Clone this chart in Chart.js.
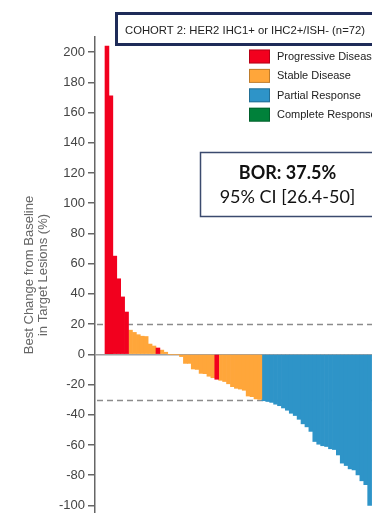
<!DOCTYPE html>
<html>
<head>
<meta charset="utf-8">
<script src="https://cdn.jsdelivr.net/npm/chart.js@4"></script>
<style>
  html, body { margin: 0; padding: 0; background: #fff; overflow: hidden; }
  #wrap { width: 372px; height: 513px; }
</style>
</head>
<body>
<div id="wrap"><canvas id="waterfall" width="372" height="513"></canvas></div>
<script>
// best % change per patient, sorted
var pctChange = [204, 171, 65, 50, 38, 28,
  16, 14.5, 13, 12, 11.8, 6.8, 5.5, 4.2, 2.8, 1.4,
  0, 0, 0,
  -1.5, -6, -6, -9.7, -10, -12.6, -12.8, -14.5, -15.5, -16.5, -17.2, -18, -19.5, -21.4, -22.5, -23, -23.8, -27.6, -28, -29.5, -29.8,
  -30.7, -31.2, -31.8, -33, -34, -35.5, -37, -39, -40.5, -43, -46, -48, -51, -57.7, -59.5, -60.5, -61, -62.5, -63, -66.6,
  -72, -73.6, -75.8, -76.5, -79.8, -83.7, -86.3, -100];

var response = ['PD','PD','PD','PD','PD','PD',
  'SD','SD','SD','SD','SD','SD','SD','PD','SD','SD',
  'SD','SD','SD',
  'SD','SD','SD','SD','SD','SD','SD','SD','SD','PD','SD','SD','SD','SD','SD','SD','SD','SD','SD','SD','SD',
  'PR','PR','PR','PR','PR','PR','PR','PR','PR','PR','PR','PR','PR','PR','PR','PR','PR','PR','PR','PR',
  'PR','PR','PR','PR','PR','PR','PR','PR'];

var respCodes = ['PD', 'SD', 'PR', 'CR'];
var respNames = ['Progressive Disease', 'Stable Disease', 'Partial Response', 'Complete Response'];
var respColors = ['#F2001E', '#FFA63A', '#2E94C8', '#00813A'];

var yTicks = [-100, -80, -60, -40, -20, 0, 20, 40, 60, 80, 100, 120, 140, 160, 180, 200];
var refLines = [20, -30];

var cohortTitle = 'COHORT 2: HER2 IHC1+ or IHC2+/ISH- (n=72)';
var borText = 'BOR: 37.5%';
var ciText = '95% CI [26.4-50]';

var datasets = [];
for (var k = 0; k < respCodes.length; k++) {
  var pts = [];
  for (var i = 0; i < pctChange.length; i++) {
    if (response[i] == respCodes[k]) pts.push({ x: i, y: pctChange[i] });
  }
  datasets.push({
    label: respNames[k],
    data: pts,
    backgroundColor: respColors[k],
    borderWidth: 0,
    grouped: false,
    barPercentage: 1,
    categoryPercentage: 1
  });
}

var overlay = {
  id: 'overlay',
  beforeDatasetsDraw: function(chart) {
    var ctx = chart.ctx, area = chart.chartArea, y = chart.scales.y;
    ctx.save();
    ctx.setLineDash([6, 4]);
    ctx.strokeStyle = '#8c8c8c';
    ctx.lineWidth = 1.5;
    refLines.forEach(function(v) {
      var py = Math.round(y.getPixelForValue(v)) + 0.5;
      ctx.beginPath();
      ctx.moveTo(area.left + 2, py);
      ctx.lineTo(area.right, py);
      ctx.stroke();
    });
    ctx.restore();
  },
  afterDraw: function(chart) {
    var ctx = chart.ctx;
    ctx.save();
    // cohort title box
    ctx.fillStyle = '#fff';
    ctx.fillRect(115, 12, 270, 34);
    ctx.strokeStyle = '#1E2B58';
    ctx.lineWidth = 3;
    ctx.strokeRect(116.5, 13.5, 270, 31);
    ctx.fillStyle = '#222';
    ctx.font = '11.5px "Liberation Sans", Arial, sans-serif';
    ctx.textBaseline = 'middle';
    ctx.textAlign = 'left';
    ctx.fillText(cohortTitle, 125, 30.5, 240);

    // legend
    ctx.font = '11px "Liberation Sans", Arial, sans-serif';
    chart.data.datasets.forEach(function(ds, k) {
      var top = 49.5 + k * 19.4;
      ctx.fillStyle = ds.backgroundColor;
      ctx.fillRect(249, top, 21, 14);
      ctx.strokeStyle = 'rgba(0,0,0,0.25)';
      ctx.lineWidth = 1;
      ctx.strokeRect(249.5, top + 0.5, 20, 13);
      ctx.fillStyle = '#222';
      ctx.fillText(ds.label, 277, top + 7.5);
    });

    // BOR box
    ctx.fillStyle = '#fff';
    ctx.fillRect(200, 152, 190, 65);
    ctx.strokeStyle = '#3B4A6E';
    ctx.lineWidth = 1.5;
    ctx.strokeRect(200.5, 152.5, 190, 64);
    ctx.fillStyle = '#111';
    ctx.textAlign = 'center';
    ctx.font = 'bold 18px Lato, "Open Sans", sans-serif';
    ctx.fillText(borText, 287.5, 173);
    ctx.font = '18px Lato, "Open Sans", sans-serif';
    ctx.fillText(ciText, 287.5, 197);
    ctx.restore();
  }
};

var chart = new Chart(document.getElementById('waterfall').getContext('2d'), {
  type: 'bar',
  data: { datasets: datasets },
  options: {
    responsive: false,
    animation: false,
    layout: { padding: { top: 37, right: 0, bottom: 0, left: 0 } },
    plugins: { legend: { display: false }, tooltip: { enabled: false } },
    scales: {
      x: {
        type: 'linear',
        display: false,
        offset: false,
        bounds: 'data',
        min: -3.05,
        max: 67.6
      },
      y: {
        min: -105,
        max: 210,
        afterFit: function(scale) {
          scale.width = 95;
          scale.paddingTop = 0;
          scale.paddingBottom = 0;
        },
        afterBuildTicks: function(scale) {
          scale.ticks = yTicks.map(function(v) { return { value: v }; });
        },
        border: { display: true, color: '#666', width: 1.5 },
        grid: {
          drawOnChartArea: true,
          drawTicks: true,
          tickLength: 7,
          tickWidth: 1.5,
          tickColor: '#666',
          lineWidth: 1.5,
          color: function(c) { return c.tick && c.tick.value === 0 ? '#a0a0a0' : 'rgba(0,0,0,0)'; }
        },
        ticks: {
          padding: 3,
          color: '#444',
          font: { family: '"Liberation Sans", Arial, sans-serif', size: 13 }
        },
        title: {
          display: true,
          text: ['Best Change from Baseline', 'in Target Lesions (%)'],
          color: '#666',
          padding: { top: 22, bottom: 0 },
          font: { family: '"Liberation Sans", Arial, sans-serif', size: 13, lineHeight: 1.1 }
        }
      }
    }
  },
  plugins: [overlay]
});
</script>
</body>
</html>
